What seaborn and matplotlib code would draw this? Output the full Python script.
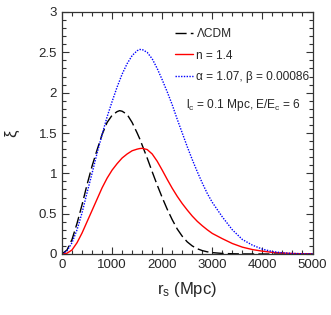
import matplotlib
matplotlib.use("Agg")
import matplotlib.pyplot as plt
from matplotlib.ticker import MultipleLocator
import seaborn as sns
import pandas as pd

# ---- data ----
r_mpc = [0, 100, 200, 300, 400, 500, 600, 700, 800, 900, 1000, 1100, 1150, 1200, 1300,
         1400, 1500, 1550, 1600, 1700, 1800, 1900, 2000, 2100, 2200, 2300, 2400, 2500,
         2600, 2700, 2800, 2900, 3000, 3200, 3400, 3600, 3800, 4000, 4200, 4400,
         4600, 4800, 5000]
xi_lcdm = [0, 0.05, 0.18, 0.38, 0.61, 0.86, 1.09, 1.29, 1.48, 1.63, 1.72, 1.765, 1.777,
           1.77, 1.73, 1.63, 1.50, 1.43, 1.35, 1.19, 1.02, 0.855, 0.70, 0.555, 0.425, 0.31,
           0.22, 0.15, 0.10, 0.065, 0.042, 0.027, 0.017, 0.007, 0.003, 0.001, 0.0004, 0,
           0, 0, 0, 0, 0]
xi_n14 = [0, 0.01, 0.05, 0.14, 0.26, 0.40, 0.54, 0.68, 0.82, 0.94, 1.04, 1.12, 1.155,
          1.19, 1.24, 1.28, 1.30, 1.307, 1.31, 1.295, 1.24, 1.15, 1.04, 0.925, 0.815, 0.715,
          0.625, 0.545, 0.47, 0.405, 0.35, 0.30, 0.255, 0.19, 0.13, 0.085, 0.055, 0.035,
          0.02, 0.012, 0.006, 0.003, 0.001]
xi_ab = [0, 0.04, 0.14, 0.30, 0.51, 0.76, 1.00, 1.25, 1.48, 1.70, 1.89, 2.07, 2.15,
         2.23, 2.36, 2.46, 2.52, 2.535, 2.535, 2.50, 2.42, 2.30, 2.16, 2.01, 1.85, 1.67,
         1.50, 1.33, 1.17, 1.02, 0.88, 0.75, 0.64, 0.46, 0.30, 0.18, 0.11, 0.06, 0.03,
         0.015, 0.007, 0.003, 0.001]
labels = ["ΛCDM", "n = 1.4", "α = 1.07, β = 0.00086"]
x_ticks = [0, 1000, 2000, 3000, 4000, 5000]
y_ticks = [0, 0.5, 1, 1.5, 2, 2.5, 3]
y_tick_labels = ["0", "0.5", "1", "1.5", "2", "2.5", "3"]

sns.set_style("ticks")
plt.rcParams["font.family"] = ["Liberation Sans", "DejaVu Sans"]
plt.rcParams["mathtext.fontset"] = "custom"
plt.rcParams["mathtext.rm"] = "Liberation Sans"
plt.rcParams["mathtext.it"] = "Liberation Sans:italic"

df = pd.DataFrame({
    "r": r_mpc * 3,
    "xi": xi_lcdm + xi_n14 + xi_ab,
    "model": [labels[0]] * len(r_mpc) + [labels[1]] * len(r_mpc) + [labels[2]] * len(r_mpc),
})

fig = plt.figure(figsize=(3.31, 3.15), dpi=100)
ax = fig.add_axes([62 / 331, 61 / 315, 250.5 / 331, 242 / 315])

palette = {labels[0]: "black", labels[1]: "#ff0000", labels[2]: "#0000ff"}
sns.lineplot(data=df, x="r", y="xi", hue="model", palette=palette,
             linewidth=1.0, ax=ax, sort=True, legend=True)
styles = [(0, (8, 3)), "-", (0, (1, 1))]
for line, ls in zip(ax.get_lines()[:3], styles):
    line.set_linestyle(ls)

ax.set_xlim(0, 5000)
ax.set_ylim(0, 3)
ax.set_xticks(x_ticks)
ax.set_yticks(y_ticks)
ax.set_yticklabels(y_tick_labels)
ax.xaxis.set_minor_locator(MultipleLocator(200))
ax.yaxis.set_minor_locator(MultipleLocator(0.1))
ax.tick_params(which="both", direction="in", top=True, right=True,
               labelsize=9.5, color="#333333", width=0.8)
ax.tick_params(which="major", length=5, pad=3.5)
ax.tick_params(which="minor", length=2.7)
for sp in ax.spines.values():
    sp.set_linewidth(0.9)
    sp.set_color("#333333")

ax.set_xlabel(r"r$_\mathrm{s}$ (Mpc)", fontsize=12, labelpad=6.5)
ax.set_ylabel("ξ", fontsize=12, labelpad=14)

handles, labs = ax.get_legend_handles_labels()
for h, ls in zip(handles, styles):
    h.set_linestyle(ls)
leg = ax.legend(handles, labs, loc="upper left", bbox_to_anchor=(0.451, 0.933),
                frameon=False, fontsize=8.6, handlelength=1.5, handletextpad=0.3,
                labelspacing=0.78, borderaxespad=0, borderpad=0)
ax.text(0.495, 0.617, r"l$_\mathrm{c}$ = 0.1 Mpc, E/E$_\mathrm{c}$ = 6",
        transform=ax.transAxes, fontsize=8.6, ha="left", va="center")

fig.savefig("out.png", dpi=100)
